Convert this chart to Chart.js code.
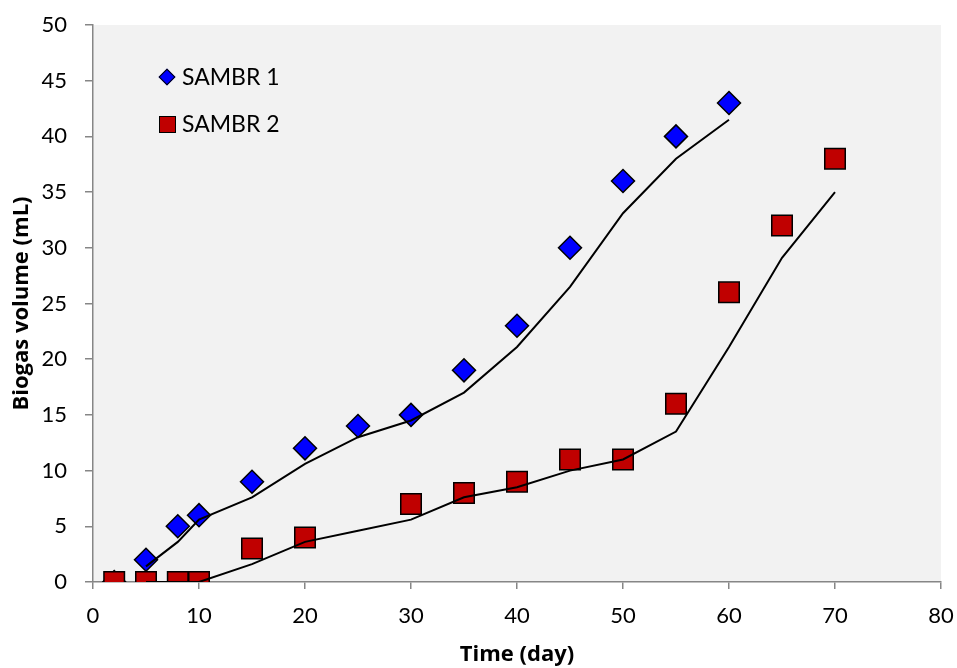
<!DOCTYPE html>
<html>
<head>
<meta charset="utf-8">
<script src="https://cdn.jsdelivr.net/npm/chart.js@4.4.1/dist/chart.umd.min.js"></script>
<style>
  html, body { margin: 0; padding: 0; background: #fff; }
  #wrap { position: relative; width: 957px; height: 668px; }
  .leg { position: absolute; font-family: Lato, sans-serif; font-size: 23px; color: #000; line-height: 26px; white-space: nowrap; }
  .mk { position: absolute; box-sizing: border-box; border: 1.5px solid #000; }
</style>
</head>
<body>
<div id="wrap">
  <canvas id="chart" width="957" height="668"></canvas>
  <div class="mk" style="left:161px; top:71px; width:12px; height:12px; background:#0000ff; transform:rotate(45deg);"></div>
  <div class="leg" style="left:182px; top:63px;">SAMBR 1</div>
  <div class="mk" style="left:159px; top:116px; width:17px; height:17px; background:#c00000;"></div>
  <div class="leg" style="left:182px; top:110px;">SAMBR 2</div>
</div>
<script>
// measured points
const days1 = [2, 5, 8, 10, 15, 20, 25, 30, 35, 40, 45, 50, 55, 60];
const sambr1 = [0, 2, 5, 6, 9, 12, 14, 15, 19, 23, 30, 36, 40, 43];
const days2 = [2, 5, 8, 10, 15, 20, 30, 35, 40, 45, 50, 55, 60, 65, 70];
const sambr2 = [0, 0, 0, 0, 3, 4, 7, 8, 9, 11, 11, 16, 26, 32, 38];

// model curves (black lines)
const fitDays1 = [5, 8, 10, 15, 20, 25, 30, 35, 40, 45, 50, 55, 60];
const fit1 = [1.4, 3.6, 5.6, 7.6, 10.6, 13.0, 14.5, 17.0, 21.1, 26.5, 33.1, 38.0, 41.5];
const fitDays2 = [5, 8, 10, 15, 20, 25, 30, 35, 40, 45, 50, 55, 60, 65, 70];
const fit2 = [0, 0, 0, 1.6, 3.6, 4.6, 5.6, 7.6, 8.5, 10.0, 11.0, 13.5, 21.1, 29.1, 35.0];

const xTicks = [0, 10, 20, 30, 40, 50, 60, 70, 80];
const yTicks = [0, 5, 10, 15, 20, 25, 30, 35, 40, 45, 50];

const toXY = (xs, ys) => xs.map((x, i) => ({ x: x, y: ys[i] }));

const axisGray = '#868686';
const tickFont = { family: 'Lato', size: 22 };
const titleFont = { family: 'Open Sans', size: 22, weight: 'bold' };

// grey plot area background
const plotBg = {
    id: 'plotBg',
    beforeDraw(chart) {
        const { ctx, chartArea: a } = chart;
        ctx.save();
        ctx.fillStyle = '#f2f2f2';
        ctx.fillRect(a.left, a.top, a.right - a.left, a.bottom - a.top);
        ctx.restore();
    }
};

new Chart(document.getElementById('chart').getContext('2d'), {
    type: 'scatter',
    data: {
        datasets: [
            {
                label: 'fit 1', type: 'line', data: toXY(fitDays1, fit1),
                borderColor: '#000', borderWidth: 2, pointRadius: 0, fill: false, order: 1
            },
            {
                label: 'fit 2', type: 'line', data: toXY(fitDays2, fit2),
                borderColor: '#000', borderWidth: 2, pointRadius: 0, fill: false, order: 1
            },
            {
                label: 'SAMBR 2', data: toXY(days2, sambr2),
                pointStyle: 'rect', pointRadius: 14.5, backgroundColor: '#c00000',
                borderColor: '#000', borderWidth: 1.5, order: 2
            },
            {
                label: 'SAMBR 1', data: toXY(days1, sambr1),
                pointStyle: 'rectRot', pointRadius: 11.5, backgroundColor: '#0000ff',
                borderColor: '#000', borderWidth: 1.5, order: 3
            }
        ]
    },
    options: {
        responsive: false,
        animation: false,
        layout: { padding: { left: 0, right: 14, top: 25, bottom: 0 } },
        plugins: { legend: { display: false }, tooltip: { enabled: false } },
        scales: {
            x: {
                type: 'linear', min: 0, max: 80,
                afterFit: s => { s.height = 86; s.paddingLeft = 0; s.paddingRight = 0; },
                afterBuildTicks: s => { s.ticks = xTicks.map(v => ({ value: v })); },
                grid: { drawOnChartArea: false, drawTicks: true, tickLength: 7, color: axisGray, lineWidth: 1.5 },
                border: { color: axisGray, width: 1.5 },
                ticks: { font: tickFont, color: '#000', padding: 14 },
                title: { display: true, text: 'Time (day)', font: titleFont, color: '#000', padding: { top: 0, bottom: 0 } }
            },
            y: {
                min: 0, max: 50,
                afterFit: s => { s.width = 93; s.paddingTop = 0; s.paddingBottom = 0; },
                afterBuildTicks: s => { s.ticks = yTicks.map(v => ({ value: v })); },
                grid: { drawOnChartArea: false, drawTicks: true, tickLength: 8, color: axisGray, lineWidth: 1.5 },
                border: { color: axisGray, width: 1.5 },
                ticks: { font: tickFont, color: '#000', padding: 18 },
                title: { display: true, text: 'Biogas volume (mL)', font: titleFont, color: '#000', padding: { top: 9, bottom: 0 } }
            }
        }
    },
    plugins: [plotBg]
});
</script>
</body>
</html>
